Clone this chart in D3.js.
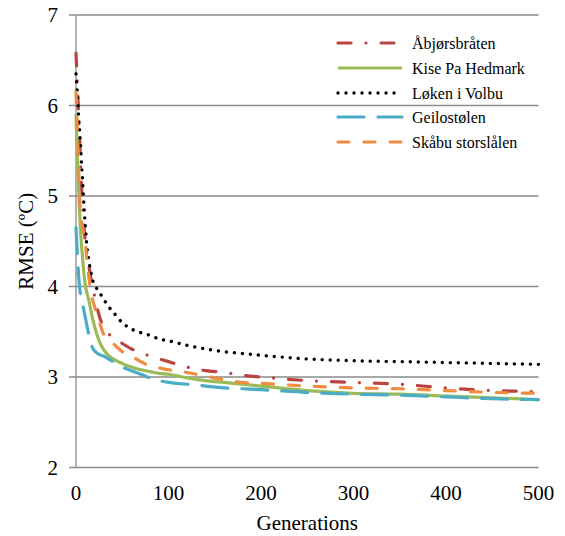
<!DOCTYPE html>
<html>
<head>
<meta charset="utf-8">
<script src="https://cdn.jsdelivr.net/npm/d3@7"></script>
<style>
  html, body { margin: 0; padding: 0; background: #fff; }
  svg { display: block; }
  text { font-family: 'Liberation Serif', 'Times New Roman', Times, 'DejaVu Serif', serif; }
</style>
</head>
<body>
<svg id="chart" width="565" height="536"></svg>
<script>
// ---- data ----
const generations = [0,1,2,3,4,5,6,7,8,10,12,14,16,18,20,25,30,35,40,50,60,70,80,90,100,120,140,160,180,200,250,300,350,400,450,500];
const seriesNames = ["Åbjørsbråten", "Kise Pa Hedmark", "Løken i Volbu", "Geilostølen", "Skåbu storslålen"];
const abjorsbraten = [6.58,6.35,6.10,5.85,5.60,5.35,5.10,4.90,4.75,4.50,4.35,4.22,4.10,4.00,3.90,3.68,3.55,3.48,3.44,3.37,3.31,3.27,3.23,3.20,3.17,3.11,3.07,3.05,3.02,3.00,2.96,2.94,2.92,2.88,2.85,2.84];
const kise = [5.90,5.60,5.30,5.05,4.80,4.60,4.45,4.33,4.20,4.02,3.92,3.84,3.74,3.64,3.56,3.40,3.30,3.24,3.20,3.15,3.11,3.08,3.06,3.04,3.03,2.99,2.96,2.94,2.92,2.90,2.85,2.82,2.81,2.79,2.77,2.75];
const loken = [6.35,6.20,6.05,5.85,5.70,5.55,5.35,5.20,5.00,4.68,4.42,4.28,4.16,4.07,4.02,3.94,3.86,3.78,3.72,3.60,3.53,3.49,3.46,3.42,3.40,3.35,3.31,3.28,3.26,3.24,3.20,3.18,3.17,3.16,3.15,3.14];
const geilostolen = [4.65,4.45,4.25,4.10,3.98,3.90,3.84,3.80,3.76,3.66,3.56,3.46,3.38,3.32,3.29,3.25,3.23,3.20,3.17,3.11,3.07,3.03,2.99,2.96,2.94,2.92,2.90,2.88,2.87,2.86,2.83,2.81,2.80,2.78,2.76,2.75];
const skabu = [6.15,5.85,5.55,5.25,4.95,4.82,4.72,4.66,4.60,4.50,4.25,4.10,3.92,3.85,3.78,3.62,3.47,3.41,3.37,3.28,3.23,3.17,3.12,3.10,3.08,3.05,3.01,2.97,2.94,2.93,2.90,2.88,2.87,2.85,2.83,2.82];
const xTicks = [0,100,200,300,400,500];
const yTicks = [2,3,4,5,6,7];

const seriesValues = [abjorsbraten, kise, loken, geilostolen, skabu];
const seriesColors = ["#B9443F", "#9BBB59", "#000000", "#4BACC6", "#F08C40"];
const seriesDash = ["13,15,0.01,15", null, "0.01,8", "26,14", "11,15"];
const seriesCap = ["round", "butt", "round", "round", "round"];

const FONT = "'Liberation Serif', 'Times New Roman', Times, 'DejaVu Serif', serif";

// ---- layout ----
const svg = d3.select("#chart");
const x = d3.scaleLinear().domain([0, 500]).range([76, 538.5]);
const y = d3.scaleLinear().domain([2, 7]).range([467.5, 15]);
const gridColor = "#8a8a8a";

// gridlines with left ticks
svg.append("g").selectAll("line").data(yTicks).join("line")
  .attr("x1", 69).attr("x2", x(500))
  .attr("y1", d => y(d)).attr("y2", d => y(d))
  .attr("stroke", gridColor).attr("stroke-width", 1.3);

// y axis line
svg.append("line").attr("x1", x(0)).attr("x2", x(0))
  .attr("y1", y(7)).attr("y2", y(2))
  .attr("stroke", gridColor).attr("stroke-width", 1.3);

// y tick labels
svg.append("g").selectAll("text").data(yTicks).join("text")
  .attr("x", 58).attr("y", d => y(d)).attr("dy", "0.35em")
  .attr("text-anchor", "end").attr("font-size", 21).attr("fill", "#000")
  .attr("font-family", FONT)
  .text(d => d);

// x tick labels
svg.append("g").selectAll("text").data(xTicks).join("text")
  .attr("x", d => x(d)).attr("y", 500)
  .attr("text-anchor", "middle").attr("font-size", 21).attr("fill", "#000")
  .attr("font-family", FONT)
  .text(d => d);

// axis titles
svg.append("text").attr("x", (x(0) + x(500)) / 2).attr("y", 530)
  .attr("text-anchor", "middle").attr("font-size", 21)
  .attr("font-family", FONT).text("Generations");
svg.append("text")
  .attr("transform", `translate(33,${(y(2) + y(7)) / 2}) rotate(-90)`)
  .attr("text-anchor", "middle").attr("font-size", 21)
  .attr("font-family", FONT).text("RMSE (ºC)");

// lines
const line = d3.line()
  .x((d, i) => x(generations[i]))
  .y(d => y(d))
  .curve(d3.curveMonotoneX);

seriesValues.forEach((vals, k) => {
  svg.append("path")
    .datum(vals)
    .attr("d", line)
    .attr("fill", "none")
    .attr("stroke", seriesColors[k])
    .attr("stroke-width", k === 2 ? 3.4 : 3.2)
    .attr("stroke-linecap", seriesCap[k])
    .attr("stroke-dasharray", seriesDash[k]);
});

// legend
const legY = [43, 68, 93, 117, 142];
const leg = svg.append("g");
seriesNames.forEach((name, k) => {
  leg.append("line")
    .attr("x1", 338).attr("x2", 402)
    .attr("y1", legY[k]).attr("y2", legY[k])
    .attr("stroke", seriesColors[k])
    .attr("stroke-width", k === 2 ? 3.4 : 3.2)
    .attr("stroke-linecap", seriesCap[k])
    .attr("stroke-dasharray", seriesDash[k]);
  leg.append("text")
    .attr("x", 412).attr("y", legY[k]).attr("dy", "0.35em")
    .attr("font-size", 16).attr("fill", "#000")
    .attr("font-family", FONT)
    .text(name);
});
</script>
</body>
</html>
